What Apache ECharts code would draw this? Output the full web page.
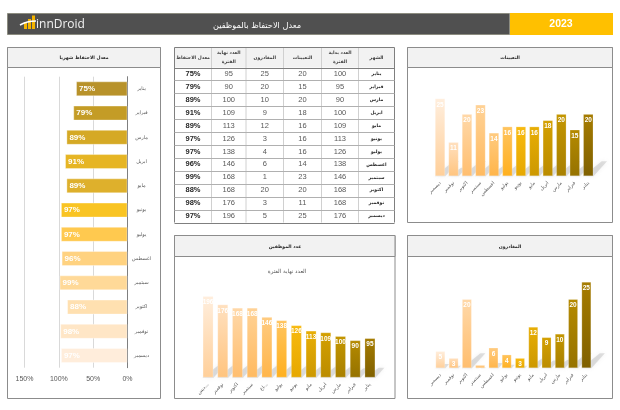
<!DOCTYPE html>
<html>
<head>
<meta charset="utf-8">
<style>
  html, body { margin: 0; padding: 0; background: #fff; }
  #chart { width: 620px; height: 410px; }
</style>
<script src="https://cdn.jsdelivr.net/npm/echarts@6/dist/echarts.min.js"></script>
</head>
<body>
<div id="chart"></div>
<script>
const months = ['يناير', 'فبراير', 'مارس', 'ابريل', 'مايو', 'يونيو', 'يوليو', 'اغسطس', 'سبتمبر', 'اكتوبر', 'نوفمبر', 'ديسمبر'];
const monthsCut = ['يناير', 'فبراير', 'مارس', 'ابريل', 'مايو', 'يونيو', 'يوليو', 'اغ...', 'سبتمبر', 'اكتوبر', 'نوفمبر', 'ديس...'];
const startCount = [100, 95, 90, 100, 109, 113, 126, 138, 146, 168, 168, 176];
const hires = [20, 15, 20, 18, 16, 16, 16, 14, 23, 20, 11, 25];
const leavers = [25, 20, 10, 9, 12, 3, 4, 6, 1, 20, 3, 5];
const endCount = [95, 90, 100, 109, 113, 126, 138, 146, 168, 168, 176, 196];
const retention = [75, 79, 89, 91, 89, 97, 97, 96, 99, 88, 98, 97];
const tableHead = ['معدل الاحتفاظ', 'العدد نهاية\nالفترة', 'المغادرون', 'التعيينات', 'العدد بداية\nالفترة', 'الشهر'];

const AR = '"DejaVu Sans", sans-serif';
const LAT = '"Liberation Sans", Arial, sans-serif';
const BORDER = '#8c8c8c';

const hbarColors = ['#b8922a', '#c49c26', '#d5a925', '#e6b524', '#deb02c', '#f9c423', '#ffc94f', '#ffd280', '#ffd998', '#ffe0b0', '#ffe6c6', '#ffeddb'];
const gradTop = ['#a67c00', '#b58a00', '#c49600', '#d4a000', '#e8ae05', '#f8ba10', '#ffc45f', '#ffcb80', '#ffd296', '#ffd8a8', '#ffe0bf', '#ffeedd'];
const gradBottom = ['#7f6000', '#957200', '#a88000', '#bb8c00', '#cc9800', '#e6a800', '#ffb01e', '#ffb54a', '#ffba60', '#ffbe6f', '#ffc47e', '#ffcf99'];

// Panels: header band plus a thin frame
const panel = (x, y, w, h, headH) => [
  { type: 'rect', z: -2, shape: { x, y, width: w, height: h }, style: { fill: '#fff', stroke: BORDER, lineWidth: 1 } },
  { type: 'rect', z: -1, shape: { x, y, width: w, height: headH }, style: { fill: '#f2f2f2', stroke: BORDER, lineWidth: 1 } },
];

// Table
const tableX = [174.5, 211.5, 246, 283.5, 321.5, 358.5, 394.5];
const tableTop = 47.5, headBottom = 67.5, rowH = 12.92;
const tableCols = [
  retention.map((v) => v + '%'),
  endCount,
  leavers,
  hires,
  startCount,
  months,
];
const tableGraphic = () => {
  const out = [];
  const bottom = headBottom + rowH * 12;
  out.push({ type: 'rect', z: -1, shape: { x: tableX[0], y: tableTop, width: tableX[6] - tableX[0], height: headBottom - tableTop }, style: { fill: '#f2f2f2' } });
  tableX.forEach((x, i) => {
    out.push({ type: 'line', shape: { x1: x, y1: tableTop, x2: x, y2: bottom }, style: { stroke: i === 0 || i === 6 ? '#7f7f7f' : '#d0d0d0', lineWidth: 1 } });
  });
  for (let r = 0; r <= 12; r++) {
    const y = Math.round(headBottom + rowH * r) + 0.5;
    out.push({ type: 'line', shape: { x1: tableX[0], y1: y, x2: tableX[6], y2: y }, style: { stroke: r === 0 || r === 12 ? '#7f7f7f' : '#b0b0b0', lineWidth: 1 } });
  }
  out.push({ type: 'line', shape: { x1: tableX[0], y1: tableTop, x2: tableX[6], y2: tableTop }, style: { stroke: '#7f7f7f', lineWidth: 1 } });
  tableHead.forEach((label, c) => {
    out.push({ type: 'text', style: { x: (tableX[c] + tableX[c + 1]) / 2, y: (tableTop + headBottom) / 2, text: label, align: 'center', verticalAlign: 'middle', font: 'bold 4.6px ' + AR, fill: '#404040', lineHeight: 9 } });
  });
  tableCols.forEach((col, c) => {
    col.forEach((v, r) => {
      const bold = c === 0 || c === 5;
      out.push({ type: 'text', style: {
        x: (tableX[c] + tableX[c + 1]) / 2,
        y: headBottom + rowH * (r + 0.5),
        text: String(v),
        align: 'center',
        verticalAlign: 'middle',
        font: c === 5 ? 'bold 4.6px ' + AR : (bold ? 'bold 7.5px ' : '7.5px ') + LAT,
        fill: bold ? '#262626' : '#595959',
      } });
    });
  });
  return out;
};

// Small logo in the dark strip
const logoGraphic = [
  { type: 'rect', shape: { x: 24, y: 22, width: 3, height: 7 }, style: { fill: '#f4b400' } },
  { type: 'rect', shape: { x: 28, y: 19, width: 3, height: 10 }, style: { fill: '#f4b400' } },
  { type: 'rect', shape: { x: 32, y: 15.5, width: 3, height: 13.5 }, style: { fill: '#f4b400' } },
  { type: 'bezierCurve', shape: { x1: 20, y1: 25, cpx1: 27, cpy1: 21, x2: 36, y2: 21 }, style: { fill: 'none', stroke: '#fff', lineWidth: 1.6 } },
  { type: 'text', style: { x: 36, y: 24.5, text: 'innDroid', verticalAlign: 'middle', font: '12px "Open Sans", sans-serif', fill: '#f2f2f2' } },
];

// Three column charts and the horizontal chart share one instance
const columnCharts = [
  { values: hires, labels: months, left: 433.3, right: 595, top: 98.3, bottom: 176.3, max: 25, barWidth: 10.5 },
  { values: endCount, labels: monthsCut, left: 200.7, right: 377.3, top: 296, bottom: 377.7, max: 196, barWidth: 11 },
  { values: leavers, labels: months, left: 433.7, right: 593, top: 281.7, bottom: 368.3, max: 25, barWidth: 10 },
];

const grids = [{ left: 24.5, right: 620 - 127.5, top: 76.7, height: 291 }];
const xAxes = [{
  type: 'value', gridIndex: 0, inverse: true, min: 0, max: 150, interval: 50,
  axisLine: { show: false }, axisTick: { show: false },
  axisLabel: { formatter: '{value}%', color: '#595959', fontFamily: LAT, fontSize: 7, margin: 8 },
  splitLine: { lineStyle: { color: '#d9d9d9', width: 1 } },
}];
const yAxes = [{
  type: 'category', gridIndex: 0, inverse: true, data: months, position: 'right',
  axisLine: { show: true, onZero: false, lineStyle: { color: '#7f7f7f', width: 1 } }, axisTick: { show: false },
  axisLabel: { color: '#595959', fontFamily: AR, fontSize: 5, margin: 14, align: 'center', interval: 0 },
}];
const series = [{
  type: 'bar', xAxisIndex: 0, yAxisIndex: 0, barWidth: 15,
  data: retention.map((v, i) => ({ value: v, itemStyle: { color: hbarColors[i], borderColor: 'rgba(255,255,255,0.35)', borderWidth: 1 } })),
  label: { show: true, position: 'insideLeft', distance: 3, formatter: '{c}%', color: '#fff', fontFamily: LAT, fontWeight: 'bold', fontSize: 8 },
}];

columnCharts.forEach((c, n) => {
  const idx = n + 1;
  grids.push({ left: c.left, right: 620 - c.right, top: c.top, height: c.bottom - c.top });
  xAxes.push({
    type: 'category', gridIndex: idx, inverse: true, data: c.labels,
    axisLine: { show: false }, axisTick: { show: false },
    axisLabel: { color: '#595959', fontFamily: AR, fontSize: 4.8, rotate: 45, interval: 0, margin: 6 },
  });
  yAxes.push({ type: 'value', gridIndex: idx, min: 0, max: c.max, show: false });
  // Slanted soft shadow at the foot of each bar
  series.push({
    type: 'custom', xAxisIndex: idx, yAxisIndex: idx, z: 1, silent: true,
    data: c.values.map((v, i) => [i, v]),
    encode: { x: 0, y: 1 },
    renderItem: (params, api) => {
      const base = api.coord([api.value(0), 0]);
      const top = api.coord([api.value(0), api.value(1)]);
      const h = Math.min(15, (base[1] - top[1]) * 0.25);
      const w = c.barWidth / 2;
      return {
        type: 'polygon',
        shape: { points: [[base[0] - w, base[1]], [base[0] + w, base[1]], [base[0] + w + h * 0.9, base[1] - h], [base[0] + h * 0.9, base[1] - h]] },
        style: { fill: 'rgba(140,140,140,0.26)', shadowBlur: 4, shadowColor: 'rgba(140,140,140,0.45)' },
      };
    },
  });
  series.push({
    type: 'bar', xAxisIndex: idx, yAxisIndex: idx, z: 3, barWidth: c.barWidth,
    data: c.values.map((v, i) => ({
      value: v,
      itemStyle: {
        color: new echarts.graphic.LinearGradient(0, 0, 0, 1, [{ offset: 0, color: gradTop[i] }, { offset: 1, color: gradBottom[i] }]),
        borderColor: 'rgba(255,255,255,0.22)',
        borderWidth: 1,
      },
    })),
    label: { show: true, position: 'insideTop', distance: 3, color: '#fff', fontFamily: LAT, fontWeight: 'bold', fontSize: 6.5 },
  });
});

const panelTitle = (text, cx, y) => ({
  text, left: cx, top: y, padding: 0, textAlign: 'center', textVerticalAlign: 'middle',
  textStyle: { fontFamily: AR, fontSize: 4.6, fontWeight: 'bold', color: '#262626' },
});

const chart = echarts.init(document.getElementById('chart'));
chart.setOption({
  animation: false,
  backgroundColor: '#fff',
  title: [
    { text: 'معدل الاحتفاظ بالموظفين', left: 257, top: 25.5, padding: 0, textAlign: 'center', textVerticalAlign: 'middle', textStyle: { fontFamily: AR, fontSize: 8.2, fontWeight: 'normal', color: '#fff' } },
    { text: '2023', left: 561, top: 24, padding: 0, textAlign: 'center', textVerticalAlign: 'middle', textStyle: { fontFamily: LAT, fontSize: 10.5, fontWeight: 'bold', color: '#fff' } },
    panelTitle('معدل الاحتفاظ شهريا', 84, 58),
    panelTitle('التعيينات', 510, 58),
    panelTitle('عدد الموظفين', 285, 246.5),
    panelTitle('المغادرون', 510, 246.5),
    { text: 'العدد نهاية الفترة', left: 287, top: 272, padding: 0, textAlign: 'center', textVerticalAlign: 'middle', textStyle: { fontFamily: AR, fontSize: 5.5, fontWeight: 'normal', color: '#595959' } },
  ],
  graphic: [
    { type: 'rect', z: -1, shape: { x: 7.5, y: 13.5, width: 502, height: 21 }, style: { fill: '#505050', stroke: '#8c8c80', lineWidth: 1 } },
    { type: 'rect', z: -1, shape: { x: 510, y: 13, width: 103, height: 22 }, style: { fill: '#ffc000' } },
    ...logoGraphic,
    ...panel(7.5, 47.5, 153, 351, 20),
    ...panel(407.5, 47.5, 205, 175, 20),
    ...panel(174.5, 235.5, 220.5, 163, 21),
    ...panel(407.5, 235.5, 205, 163, 21),
    ...tableGraphic(),
  ],
  grid: grids,
  xAxis: xAxes,
  yAxis: yAxes,
  series,
});
</script>
</body>
</html>
